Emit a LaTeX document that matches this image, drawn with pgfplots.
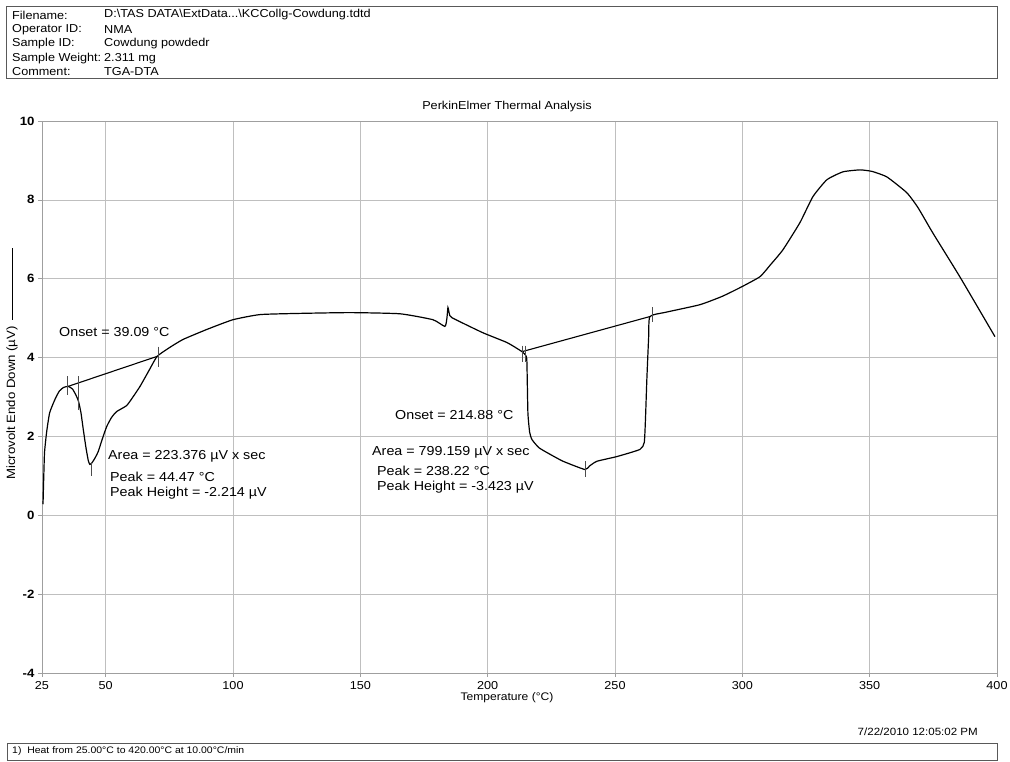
\documentclass[border=0pt]{standalone}
\usepackage{pgfplots}
\pgfplotsset{compat=1.18}
\usepackage{fontspec}
\setmainfont{Liberation Sans}[FakeStretch=1.1]
\begin{document}
\begin{tikzpicture}[x=1pt,y=1pt]
\useasboundingbox (0,0) rectangle (1010,762);
% header box
\draw[gray!70!black, line width=0.8pt] (6,684) rectangle (997,756);
\begin{scope}[every node/.style={anchor=west, inner sep=0pt, font=\fontsize{11.5}{13}\selectfont}]
\node at (12,747) {Filename:};
\node at (12,732) {Operator ID:};
\node at (12,718) {Sample ID:};
\node at (12,703) {Sample Weight:};
\node at (12,690) {Comment:};
\node at (104,747) {D:\textbackslash TAS DATA\textbackslash ExtData...\textbackslash KCCollg-Cowdung.tdtd};
\node at (104,732) {NMA};
\node at (104,718) {Cowdung powdedr};
\node at (104,703) {2.311 mg};
\node at (104,690) {TGA-DTA};
\end{scope}
\node[font=\fontsize{11.5}{13}\selectfont] at (507,655) {PerkinElmer Thermal Analysis};
\begin{axis}[at={(42pt,89pt)}, anchor=south west, scale only axis,
  width=955pt, height=552pt,
  xmin=25, xmax=400, ymin=-4, ymax=10,
  xtick={25,50,100,150,200,250,300,350,400},
  ytick={-4,-2,0,2,4,6,8,10},
  grid=major, grid style={gray!50, line width=0.6pt},
  axis line style={gray!75, line width=0.7pt},
  tick style={gray!75, line width=0.6pt},
  tick align=outside, major tick length=4pt,
  xtick pos=bottom, ytick pos=left,
  /pgf/number format/assume math mode=true,
  xticklabel style={font=\fontsize{11.5}{13}\selectfont, yshift=-1pt},
  yticklabel style={font=\fontsize{12}{13}\selectfont\bfseries},
  clip=false]
\addplot[black, line width=1.2pt, smooth, tension=0.3] coordinates {
(25.4,0.28) (25.7,1.0) (26.0,1.6) (26.8,2.1) (28.0,2.6) (30.1,2.94) (31.8,3.15)
(33.4,3.24) (35.3,3.27) (37,3.2) (38.3,3.05) (39.3,2.9) (40.3,2.6) (41.2,2.18)
(42.3,1.7) (43.2,1.38) (43.8,1.29) (44.6,1.33) (45.8,1.45) (47.1,1.62) (48.6,1.92)
(50.4,2.25) (52.3,2.48) (54.3,2.63) (58.2,2.78) (60.5,2.98) (63.5,3.27) (67,3.67)
(70.2,4.03) (75,4.25) (80.4,4.46) (90,4.72) (100,4.96) (110.6,5.09) (126,5.12)
(146,5.14) (165.6,5.11) (178.5,4.96) (183.2,4.79) (184.0,5.0) (184.4,5.27)
(185.0,5.1) (186,5.01) (198.1,4.63) (207.6,4.38) (213.5,4.15) (215.0,4.05)
(215.4,3.9) (215.8,2.6) (216.5,2.1) (217.4,1.92) (220,1.72) (223.3,1.59)
(229.6,1.37) (238.2,1.16) (240,1.25) (242.9,1.37) (250.8,1.49) (259.8,1.67)
(261.5,1.85) (262,2.5) (262.5,3.44) (263.2,4.5) (263.7,5.04) (270,5.15)
(283.3,5.34) (292,5.55) (299,5.77) (306.9,6.05) (311,6.35) (315.9,6.73)
(322.6,7.42) (327.7,8.08) (333.2,8.51) (339.5,8.71) (346.2,8.76) (351,8.72)
(356.8,8.58) (364.6,8.18) (369,7.8) (374.8,7.16) (385.4,6.05) (399.2,4.53)
};
% baselines
\addplot[black, line width=1.1pt] coordinates {(35.3,3.27) (70.2,4.03)};
\addplot[black, line width=1.1pt] coordinates {(213.5,4.15) (263.7,5.04)};
% event ticks
\addplot[gray!60!black, line width=0.6pt] coordinates {(34.8,3.52) (34.8,3.06)};
\addplot[gray!60!black, line width=0.6pt] coordinates {(39.1,3.52) (39.1,2.68)};
\addplot[gray!60!black, line width=0.6pt] coordinates {(70.5,4.28) (70.5,3.77)};
\addplot[gray!60!black, line width=0.6pt] coordinates {(44.3,1.34) (44.3,1.0)};
\addplot[gray!60!black, line width=0.6pt] coordinates {(213.5,4.3) (213.5,3.9)};
\addplot[gray!60!black, line width=0.6pt] coordinates {(214.8,4.3) (214.8,3.9)};
\addplot[gray!60!black, line width=0.6pt] coordinates {(238.3,1.37) (238.3,0.96)};
\addplot[gray!60!black, line width=0.6pt] coordinates {(264.5,5.27) (264.5,4.89)};
\end{axis}
% annotations
\begin{scope}[every node/.style={anchor=west, inner sep=0pt, font=\fontsize{13}{15}\selectfont}]
\node at (59,430) {Onset = 39.09 °C};
\node at (108,306) {Area = 223.376 µV x sec};
\node at (110,285) {Peak = 44.47 °C};
\node at (110,269) {Peak Height = -2.214 µV};
\node at (395,347) {Onset = 214.88 °C};
\node at (372,310) {Area = 799.159 µV x sec};
\node at (377,291) {Peak = 238.22 °C};
\node at (377,275) {Peak Height = -3.423 µV};
\end{scope}
% y label
\node[rotate=90, inner sep=0pt, font=\fontsize{12}{14}\selectfont] at (12,359) {Microvolt Endo Down (µV)};
\draw[black, line width=0.8pt] (12,442) -- (12,514);
% x label
\node[font=\fontsize{11}{13}\selectfont] at (507,64) {Temperature (°C)};
% date and footer
\node[anchor=east, inner sep=0pt, font=\fontsize{10.5}{12}\selectfont] at (978,30) {7/22/2010 12:05:02 PM};
\draw[gray!70!black, line width=0.8pt] (7,1.5) rectangle (997,19);
\node[anchor=west, inner sep=0pt, font=\fontsize{9.5}{11}\selectfont] at (12,11) {1)\ \ Heat from 25.00°C to 420.00°C at 10.00°C/min};
\end{tikzpicture}
\end{document}
